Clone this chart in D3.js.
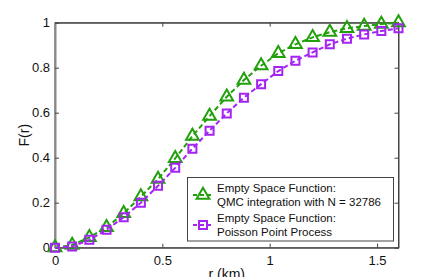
<!DOCTYPE html>
<html>
<head>
<meta charset="utf-8">
<script src="https://cdn.jsdelivr.net/npm/d3@7"></script>
<style>
  body { margin: 0; background: #fff; }
  svg { display: block; font-family: "Liberation Sans", Arial, sans-serif; }
</style>
</head>
<body>
<div class="container"></div>
<script>
// chart values
var rValues = [0, 0.08, 0.16, 0.24, 0.32, 0.40, 0.48, 0.56, 0.64, 0.72, 0.80,
               0.88, 0.96, 1.04, 1.12, 1.20, 1.28, 1.36, 1.44, 1.52, 1.60];
var qmcValues = [0, 0.012, 0.046, 0.09, 0.153, 0.227, 0.305, 0.397, 0.496, 0.585, 0.671,
                 0.745, 0.809, 0.864, 0.904, 0.935, 0.958, 0.975, 0.985, 0.994, 1.0];
var ppValues = [0, 0.005, 0.035, 0.08, 0.135, 0.2, 0.275, 0.355, 0.44, 0.52, 0.597,
                0.667, 0.727, 0.785, 0.831, 0.868, 0.904, 0.929, 0.948, 0.963, 0.975];
var xTicks = [0, 0.5, 1, 1.5];
var yTicks = [0, 0.2, 0.4, 0.6, 0.8, 1];
var legendLines = [
    ['Empty Space Function:', 'QMC integration with N = 32786'],
    ['Empty Space Function:', 'Poisson Point Process']
];

var drawChart = function () {
    const WIDTH = 443;
    const HEIGHT = 277;
    const LEFT = 55, RIGHT = 398.5, TOP = 22.7, BOTTOM = 247.7;
    const GREEN = '#22a00c';
    const PURPLE = '#a424f2';

    var svg = d3.select('.container')
        .append('svg')
        .attr('width', WIDTH)
        .attr('height', HEIGHT);

    var x = d3.scaleLinear().domain([0, 1.6]).range([LEFT, RIGHT]);
    var y = d3.scaleLinear().domain([0, 1]).range([BOTTOM, TOP]);

    // box
    svg.append('rect')
        .attr('x', LEFT).attr('y', TOP)
        .attr('width', RIGHT - LEFT).attr('height', BOTTOM - TOP)
        .style('fill', 'none').style('stroke', '#444').style('stroke-width', 1);

    // axes
    var fmt = function (d) { return d3.format('')(d); };
    var bottomAxis = svg.append('g')
        .attr('transform', 'translate(0,' + BOTTOM + ')')
        .call(d3.axisBottom(x).tickValues(xTicks).tickFormat(fmt).tickSizeInner(-4).tickSizeOuter(0).tickPadding(8));
    var topAxis = svg.append('g')
        .attr('transform', 'translate(0,' + TOP + ')')
        .call(d3.axisTop(x).tickValues(xTicks).tickFormat('').tickSizeInner(-4).tickSizeOuter(0));
    var leftAxis = svg.append('g')
        .attr('transform', 'translate(' + LEFT + ',0)')
        .call(d3.axisLeft(y).tickValues(yTicks).tickFormat(fmt).tickSizeInner(-4).tickSizeOuter(0).tickPadding(5));
    var rightAxis = svg.append('g')
        .attr('transform', 'translate(' + RIGHT + ',0)')
        .call(d3.axisRight(y).tickValues(yTicks).tickFormat('').tickSizeInner(-4).tickSizeOuter(0));

    [bottomAxis, topAxis, leftAxis, rightAxis].forEach(function (a) {
        a.select('.domain').style('stroke', '#444');
        a.selectAll('.tick line').style('stroke', '#444');
        a.selectAll('text')
            .style('font-family', '"Liberation Sans", Arial, sans-serif')
            .style('font-size', '13px').style('fill', '#111');
    });
    leftAxis.select('.domain').style('stroke', '#888').style('stroke-width', 2);
    bottomAxis.selectAll('text').attr('dy', '0.71em');

    // axis labels
    svg.append('text')
        .attr('x', x(0.8)).attr('y', 279)
        .attr('text-anchor', 'middle')
        .style('font-size', '14px').style('fill', '#111')
        .text('r (km)');
    svg.append('text')
        .attr('transform', 'translate(29,' + y(0.5) + ') rotate(-90)')
        .attr('text-anchor', 'middle')
        .style('font-size', '14px').style('fill', '#111')
        .text('F(r)');

    var line = d3.line().x(function (d) { return x(d[0]); }).y(function (d) { return y(d[1]); });
    var triangle = d3.symbol().type(d3.symbolTriangle).size(70);
    var square = function (s) { return 'M' + (-s) + ',' + (-s) + 'H' + s + 'V' + s + 'H' + (-s) + 'Z'; };

    var series = [
        { values: qmcValues, color: GREEN, marker: 'tri' },
        { values: ppValues, color: PURPLE, marker: 'sq' }
    ];

    series.forEach(function (s) {
        var pts = rValues.map(function (r, i) { return [r, s.values[i]]; });
        svg.append('path')
            .datum(pts)
            .attr('d', line)
            .style('fill', 'none')
            .style('stroke', s.color)
            .style('stroke-width', 2)
            .style('stroke-dasharray', '5,3');
        svg.append('g').selectAll('path')
            .data(pts)
            .enter().append('path')
            .attr('transform', function (d) { return 'translate(' + x(d[0]) + ',' + y(d[1]) + ')'; })
            .attr('d', s.marker === 'tri' ? triangle : square(4))
            .style('fill', 'none')
            .style('stroke', s.color)
            .style('stroke-width', 2);
    });

    // legend
    var lg = svg.append('g');
    lg.append('rect')
        .attr('x', 187.5).attr('y', 177.5)
        .attr('width', 206).attr('height', 63.5)
        .style('fill', '#fff').style('stroke', '#444').style('stroke-width', 1);

    legendLines.forEach(function (lines, i) {
        var s = series[i];
        var cy = 195 + i * 30;
        lg.append('line')
            .attr('x1', 193).attr('x2', 213)
            .attr('y1', cy).attr('y2', cy)
            .style('stroke', s.color).style('stroke-width', 2)
            .style('stroke-dasharray', '4,3');
        lg.append('path')
            .attr('transform', 'translate(203,' + cy + ')')
            .attr('d', s.marker === 'tri' ? triangle : square(4))
            .style('fill', 'none')
            .style('stroke', s.color).style('stroke-width', 2);
        lines.forEach(function (t, j) {
            lg.append('text')
                .attr('x', 217).attr('y', cy - 3 + j * 13.5)
                .style('font-size', '11.5px').style('fill', '#111')
                .text(t);
        });
    });
};
window.onload = drawChart;
</script>
</body>
</html>
